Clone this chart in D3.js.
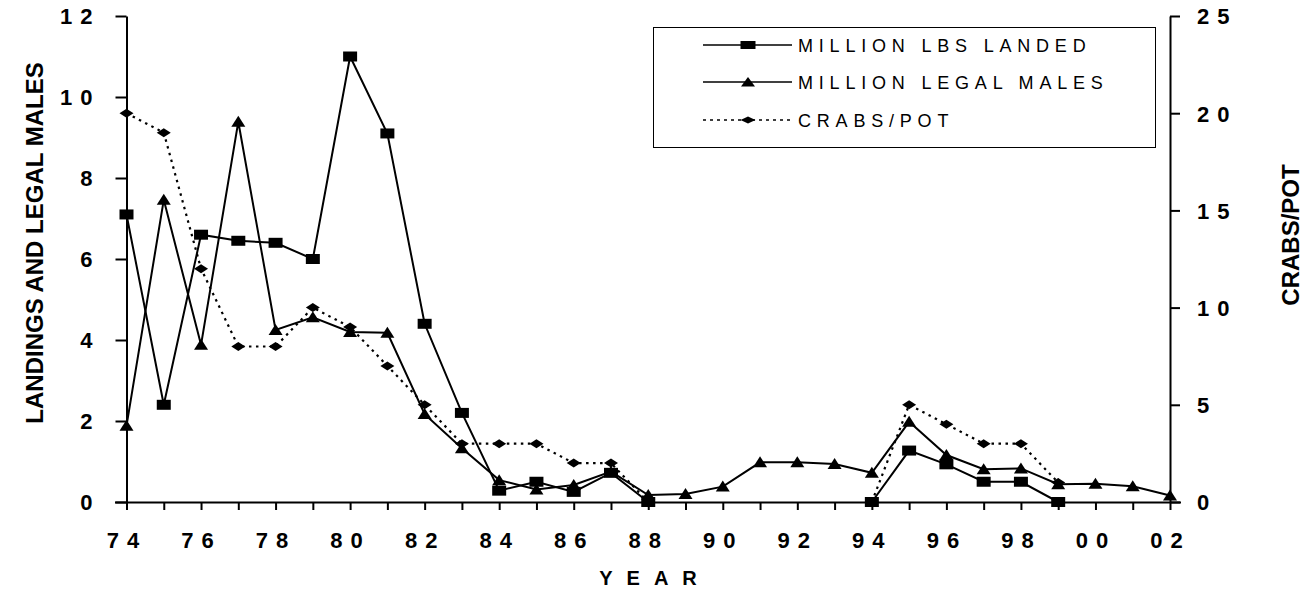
<!DOCTYPE html>
<html>
<head>
<meta charset="utf-8">
<script src="https://cdn.jsdelivr.net/npm/d3@7"></script>
<style>
  html, body { margin: 0; padding: 0; background: #fff; }
  svg { display: block; font-family: "Liberation Sans", Arial, sans-serif; }
</style>
</head>
<body>
<svg id="chart" width="1307" height="590"></svg>
<script>
// ---- data ----
const years = ["74","75","76","77","78","79","80","81","82","83","84","85","86","87","88","89","90","91","92","93","94","95","96","97","98","99","00","01","02"];
const tickLabelYears = ["74","76","78","80","82","84","86","88","90","92","94","96","98","00","02"];
const landed = [7.1, 2.4, 6.6, 6.45, 6.4, 6.0, 11.0, 9.1, 4.4, 2.2, 0.28, 0.5, 0.25, 0.72, 0.0, null, null, null, null, null, 0.0, 1.27, 0.93, 0.5, 0.5, 0.0, null, null, null];
const legalMales = [1.88, 7.46, 3.88, 9.39, 4.25, 4.56, 4.2, 4.18, 2.17, 1.33, 0.54, 0.31, 0.42, 0.75, 0.17, 0.2, 0.38, 0.98, 0.98, 0.94, 0.72, 1.98, 1.16, 0.81, 0.83, 0.44, 0.45, 0.39, 0.16];
const crabsPerPot = [20, 19, 12, 8, 8, 10, 9, 7, 5, 3, 3, 3, 2, 2, 0, null, null, null, null, null, 0, 5, 4, 3, 3, 1, null, null, null];
const leftTicks = [0, 2, 4, 6, 8, 10, 12];
const rightTicks = [0, 5, 10, 15, 20, 25];
const legendLabels = ["MILLION LBS LANDED", "MILLION LEGAL MALES", "CRABS/POT"];

// ---- layout ----
const svg = d3.select("#chart");
const x = d3.scalePoint().domain(years).range([126.5, 1170]);
const yL = d3.scaleLinear().domain([0, 12]).range([502, 16]);
const yR = d3.scaleLinear().domain([0, 25]).range([502, 16]);
const FONT = '"Liberation Sans", Arial, sans-serif';

// axes
const xAxis = svg.append("g").attr("transform", "translate(0,502)")
  .call(d3.axisBottom(x).tickSize(8).tickSizeOuter(0)
    .tickFormat(d => tickLabelYears.includes(d) ? d : ""));
xAxis.select(".domain").attr("d", "M115,0.5H1181").attr("stroke", "#000").attr("stroke-width", 2);
xAxis.selectAll(".tick line").attr("stroke", "#000").attr("stroke-width", 2);
xAxis.selectAll(".tick text").attr("y", 46).attr("dy", null)
  .attr("font-size", 22).attr("font-weight", "bold").attr("font-family", FONT)
  .attr("letter-spacing", 8).attr("fill", "#000");

const lAxis = svg.append("g").attr("transform", "translate(126.5,0)")
  .call(d3.axisLeft(yL).tickValues(leftTicks).tickSize(11).tickSizeOuter(0).tickPadding(16));
lAxis.select(".domain").attr("stroke", "#000").attr("stroke-width", 2);
lAxis.selectAll(".tick line").attr("stroke", "#000").attr("stroke-width", 2);
lAxis.selectAll(".tick text").attr("x", -26).attr("dy", "0.36em")
  .attr("font-size", 22).attr("font-weight", "bold").attr("font-family", FONT)
  .attr("letter-spacing", 8).attr("fill", "#000");

const rAxis = svg.append("g").attr("transform", "translate(1170,0)")
  .call(d3.axisRight(yR).tickValues(rightTicks).tickSize(10).tickSizeOuter(0));
rAxis.select(".domain").attr("stroke", "#000").attr("stroke-width", 2);
rAxis.selectAll(".tick line").attr("stroke", "#000").attr("stroke-width", 2);
rAxis.selectAll(".tick text").attr("x", 27).attr("dy", "0.36em")
  .attr("font-size", 22).attr("font-weight", "bold").attr("font-family", FONT)
  .attr("letter-spacing", 8).attr("fill", "#000");

// titles
svg.append("text").attr("transform", "translate(43,243) rotate(-90)")
  .attr("text-anchor", "middle").attr("font-size", 24).attr("font-weight", "bold")
  .attr("font-family", FONT).text("LANDINGS AND LEGAL MALES");
svg.append("text").attr("transform", "translate(1299,235) rotate(-90)")
  .attr("text-anchor", "middle").attr("font-size", 24).attr("font-weight", "bold")
  .attr("font-family", FONT).text("CRABS/POT");
svg.append("text").attr("x", 655).attr("y", 585)
  .attr("text-anchor", "middle").attr("font-size", 20).attr("font-weight", "bold")
  .attr("font-family", FONT).attr("letter-spacing", 14).text("YEAR");

// markers
const squarePath = "M-7,-5H7V5H-7Z";
const trianglePath = "M-7,5H7L0,-6Z";
const diamondPath = "M-7,0L0,-4.5L7,0L0,4.5Z";

function series(values, scale, dash, marker) {
  const pts = values.map((v, i) => ({ k: years[i], v }));
  const line = d3.line().defined(d => d.v != null).x(d => x(d.k)).y(d => scale(d.v));
  const g = svg.append("g");
  g.append("path").attr("d", line(pts)).attr("fill", "none").attr("stroke", "#000")
    .attr("stroke-width", dash ? 2.2 : 2).attr("stroke-dasharray", dash || null);
  g.selectAll("path.m").data(pts.filter(d => d.v != null)).join("path").attr("class", "m")
    .attr("d", marker).attr("fill", "#000")
    .attr("transform", d => `translate(${x(d.k)},${scale(d.v)})`);
}
series(landed, yL, null, squarePath);
series(legalMales, yL, null, trianglePath);
series(crabsPerPot, yR, "2.5,4.5", diamondPath);

// legend
const lg = svg.append("g");
lg.append("rect").attr("x", 653.5).attr("y", 27.5).attr("width", 502).attr("height", 120)
  .attr("fill", "#fff").attr("stroke", "#000").attr("stroke-width", 1);
const legendMarkers = ["M-7.5,-4H7.5V4H-7.5Z", "M-7,4.5H7L0,-5Z", "M-7.5,0L0,-3.5L7.5,0L0,3.5Z"];
const legendDash = [null, null, "3,4"];
const legendY = [45, 82, 120];
legendLabels.forEach((lab, i) => {
  lg.append("line").attr("x1", 703).attr("x2", 792).attr("y1", legendY[i]).attr("y2", legendY[i])
    .attr("stroke", "#000").attr("stroke-width", 1.3).attr("stroke-dasharray", legendDash[i]);
  lg.append("path").attr("d", legendMarkers[i]).attr("fill", "#000")
    .attr("transform", `translate(748,${legendY[i]})`);
  lg.append("text").attr("x", 798).attr("y", legendY[i] + 7).attr("font-size", 18)
    .attr("font-family", FONT).attr("letter-spacing", 5.8).text(lab);
});
</script>
</body>
</html>
